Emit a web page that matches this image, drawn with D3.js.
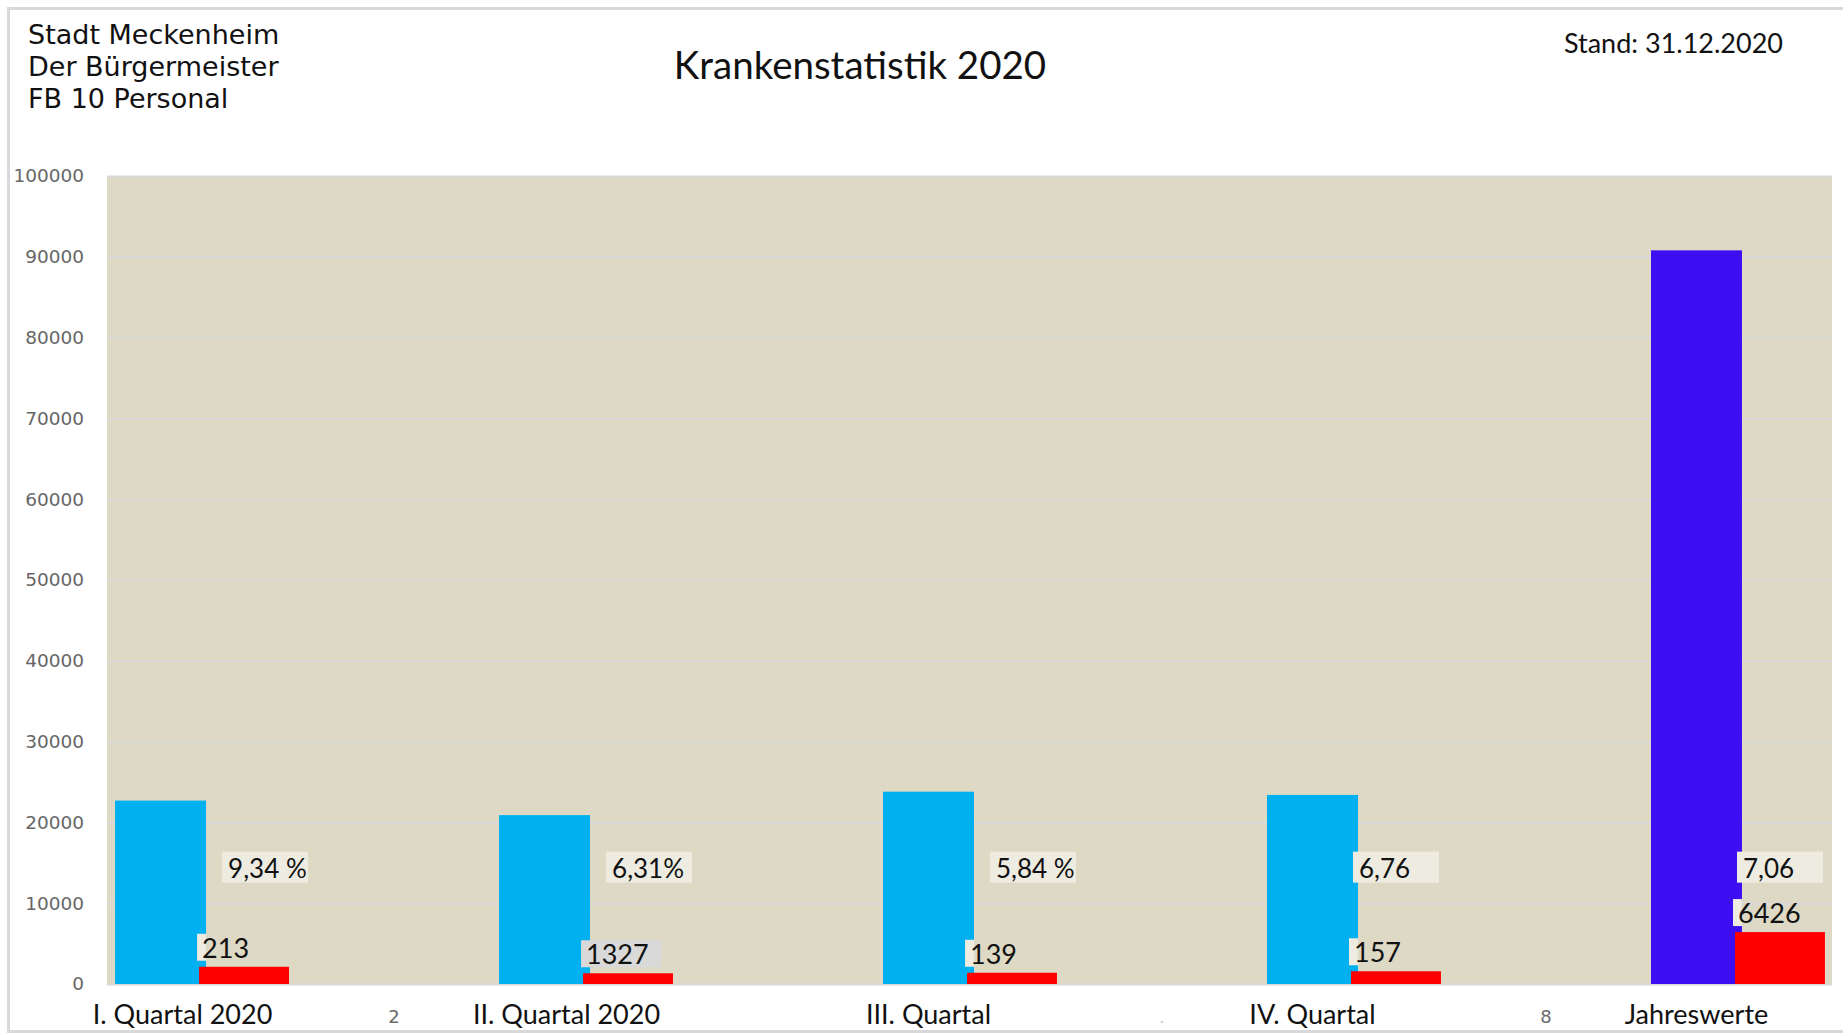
<!DOCTYPE html>
<html>
<head>
<meta charset="utf-8">
<script src="https://cdn.jsdelivr.net/npm/d3@7"></script>
<style>
  body { margin: 0; background: #fff; }
  svg { display: block; }
</style>
</head>
<body>
<div id="chart"></div>
<script>
var svgWidth = 1843;
var svgHeight = 1033;

// Data
var categories = ["I. Quartal 2020", "II. Quartal 2020", "III. Quartal", "IV. Quartal", "Jahreswerte"];
var totalValues = [22700, 20900, 23800, 23400, 90800];
var redValues = [2133, 1327, 1390, 1576, 6426];
var quoteLabels = ["9,34 %", "6,31%", "5,84 %", "6,76", "7,06"];
var redLabels = ["213", "1327", "139", "157", "6426"];
var gapLabels = ["2", "", ".", "8"];
var yTickValues = [0, 10000, 20000, 30000, 40000, 50000, 60000, 70000, 80000, 90000, 100000];
var headerLines = ["Stadt Meckenheim", "Der Bürgermeister", "FB 10 Personal"];

var plot = { left: 107, right: 1833, top: 176, bottom: 984 };

var svg = d3.select("#chart")
  .append("svg")
  .attr("width", svgWidth)
  .attr("height", svgHeight);

// outer frame
svg.append("rect")
  .attr("x", 8.5).attr("y", 8.5)
  .attr("width", svgWidth + 10).attr("height", 1023)
  .attr("fill", "none")
  .attr("stroke", "#d9d9d9")
  .attr("stroke-width", 3);

// header texts
svg.selectAll(".header")
  .data(headerLines)
  .enter()
  .append("text")
  .attr("x", 28)
  .attr("y", (d, i) => 44 + i * 32)
  .style("font-family", "DejaVu Sans")
  .style("font-size", "27px")
  .style("fill", "#111")
  .text(d => d);

svg.append("text")
  .attr("x", 860)
  .attr("y", 79)
  .style("text-anchor", "middle")
  .style("font-family", "Lato")
  .style("font-size", "38.5px")
  .style("fill", "#111")
  .text("Krankenstatistik 2020");

svg.append("text")
  .attr("x", 1783)
  .attr("y", 53)
  .style("text-anchor", "end")
  .style("font-family", "Lato")
  .style("font-size", "27px")
  .style("fill", "#111")
  .text("Stand: 31.12.2020");

// scales
var x = d3.scaleBand()
  .domain(categories)
  .range([plot.left, plot.right])
  .paddingInner(0.547)
  .paddingOuter(0.021);

var y = d3.scaleLinear()
  .domain([0, 100000])
  .range([plot.bottom, plot.top]);

var bw = x.bandwidth();
var blueX = d => x(d);
var blueW = bw * 0.523;
var redX = d => x(d) + bw * 0.483;
var redW = bw * 0.517;

// plot background
svg.append("rect")
  .attr("x", plot.left)
  .attr("y", plot.top)
  .attr("width", plot.right - plot.left - 1)
  .attr("height", plot.bottom - plot.top)
  .attr("fill", "#ddd9c4");

// gridlines
svg.append("g")
  .attr("class", "grid")
  .attr("transform", `translate(${plot.left}, 0)`)
  .call(d3.axisLeft(y).tickValues(yTickValues).tickSize(-(plot.right - plot.left - 1)).tickFormat(""))
  .call(g => g.select(".domain").remove())
  .call(g => g.selectAll("line").attr("stroke", "#d9d9d9").attr("stroke-width", 2));

// y axis labels
svg.append("g")
  .attr("transform", `translate(${plot.left}, 0)`)
  .call(d3.axisLeft(y).tickValues(yTickValues).tickSize(0).tickPadding(23).tickFormat(d3.format("d")))
  .call(g => g.select(".domain").remove())
  .call(g => g.selectAll("text")
    .style("font-family", "DejaVu Sans")
    .style("font-size", "18.5px")
    .style("fill", "#666666"));

// bars
svg.selectAll(".bar-total")
  .data(categories)
  .enter()
  .append("rect")
  .attr("x", d => blueX(d))
  .attr("y", (d, i) => y(totalValues[i]))
  .attr("width", blueW)
  .attr("height", (d, i) => y(0) - y(totalValues[i]))
  .attr("fill", (d, i) => i === categories.length - 1 ? "#3e0ef2" : "#00b0f0");

// value boxes over the red bars
var redBoxes = svg.selectAll(".red-label")
  .data(categories)
  .enter()
  .append("g");

redBoxes.append("rect")
  .attr("x", d => redX(d) - 2)
  .attr("y", (d, i) => y(redValues[i]) - 33)
  .attr("width", (d, i) => redLabels[i].length === 4 && i < 4 ? 80 : Math.max(0, blueX(d) + blueW - redX(d) + 2))
  .attr("height", 27)
  .attr("fill", (d, i) => redLabels[i].length === 4 && i < 4 ? "#d9d9d9" : "#eeece1");

redBoxes.append("text")
  .attr("x", d => redX(d) + 3)
  .attr("y", (d, i) => y(redValues[i]) - 9)
  .style("font-family", "Lato")
  .style("font-size", "27px")
  .style("fill", "#111")
  .text((d, i) => redLabels[i]);

svg.selectAll(".bar-red")
  .data(categories)
  .enter()
  .append("rect")
  .attr("x", d => redX(d))
  .attr("y", (d, i) => y(redValues[i]))
  .attr("width", redW)
  .attr("height", (d, i) => y(0) - y(redValues[i]))
  .attr("fill", "#ff0000");

// quote boxes
var quotes = svg.selectAll(".quote")
  .data(categories)
  .enter()
  .append("g")
  .attr("transform", (d, i) => {
    var left = quoteLabels[i].indexOf("%") >= 0 ? redX(d) + 23 : redX(d) + 2;
    return `translate(${left}, ${y(14400) - 16})`;
  });

quotes.append("rect")
  .attr("width", 86)
  .attr("height", 31)
  .attr("fill", "#eeece1");

quotes.append("text")
  .attr("x", 6)
  .attr("y", 26)
  .style("font-family", "Lato")
  .style("font-size", "26px")
  .style("fill", "#111")
  .text((d, i) => quoteLabels[i]);

// category labels
svg.selectAll(".cat-label")
  .data(categories)
  .enter()
  .append("text")
  .attr("x", d => blueX(d) + blueW / 2 + (d.indexOf("2020") >= 0 ? 22 : 0))
  .attr("y", 1024)
  .style("text-anchor", "middle")
  .style("font-family", "Lato")
  .style("font-size", "27px")
  .style("fill", "#111")
  .text(d => d);

// stray numbers between the groups
svg.selectAll(".gap-label")
  .data(gapLabels)
  .enter()
  .append("text")
  .attr("x", (d, i) => (x(categories[i]) + bw + x(categories[i + 1])) / 2)
  .attr("y", 1023)
  .style("text-anchor", "middle")
  .style("font-family", "DejaVu Sans")
  .style("font-size", "18px")
  .style("fill", d => d === "." ? "#cccccc" : "#6a6a6a")
  .text(d => d);
</script>
</body>
</html>
